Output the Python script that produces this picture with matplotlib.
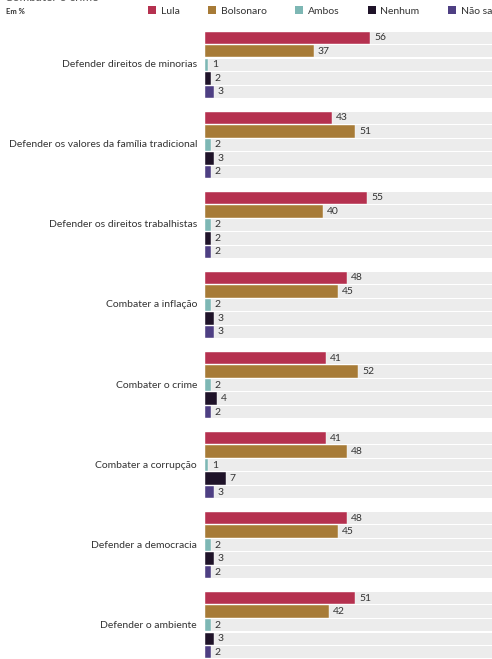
import matplotlib.pyplot as plt
from matplotlib.patches import Patch

categories = [
    "Defender direitos de minorias",
    "Defender os valores da família tradicional",
    "Defender os direitos trabalhistas",
    "Combater a inflação",
    "Combater o crime",
    "Combater a corrupção",
    "Defender a democracia",
    "Defender o ambiente",
]
series = ["Lula", "Bolsonaro", "Ambos", "Nenhum", "Não sabe"]
lula = [56, 43, 55, 48, 41, 41, 48, 51]
bolsonaro = [37, 51, 40, 45, 52, 48, 45, 42]
ambos = [1, 2, 2, 2, 2, 1, 2, 2]
nenhum = [2, 3, 2, 3, 4, 7, 3, 3]
nao_sabe = [3, 2, 2, 3, 2, 3, 2, 2]
colors = ["#b5314f", "#a77b37", "#7db7b4", "#1f1329", "#4e3f83"]

plt.rcParams["font.family"] = ["Lato", "DejaVu Sans"]

fig = plt.figure(figsize=(4.92, 6.59), dpi=100)
# axes spans from first bar top to bottom edge, x scale 0..100 runs past the right edge
ax = fig.add_axes([205 / 492, 0.0, 295 / 492, 1 - 31 / 659])

G = 80 / 13.5  # group pitch in bar slots
values = [lula, bolsonaro, ambos, nenhum, nao_sabe]
for i, cat in enumerate(categories):
    base = i * G
    for j, vals in enumerate(values):
        y = base + j
        ax.barh(y, 100, height=0.92, color="#ececec", lw=0)
        ax.barh(y, vals[i], height=0.92, color=colors[j], edgecolor="white", lw=0.3)
        ax.text(vals[i] + 1.3, y, str(vals[i]), va="center", ha="left",
                fontsize=7.5, color="#333333")
    ax.text(-2.7, base + 2, cat, va="center", ha="right", fontsize=7.5,
            color="#333333")

ax.set_xlim(0, 100)
ax.set_ylim(7 * G + 4.5, -0.5)
ax.axis("off")

# title is cropped off at the top in the source, only its bottom edge shows
fig.text(0.01, 1.0045, "Combater o crime", fontsize=8.5, color="#555555",
         va="center", ha="left")
fig.text(0.012, 0.983, "Em %", fontsize=5.5, fontweight="bold",
         color="#333333", va="center", ha="left")

handles = [Patch(facecolor=c, edgecolor="none") for c in colors]
fig.legend(handles, series, loc="center left", bbox_to_anchor=(148 / 492, 0.983),
           ncol=5, frameon=False, fontsize=7.5, handlelength=0.75,
           handleheight=0.75, handletextpad=0.45, columnspacing=2.75,
           borderaxespad=0, borderpad=0, labelcolor="#333333")

fig.savefig("out.png", dpi=100)
